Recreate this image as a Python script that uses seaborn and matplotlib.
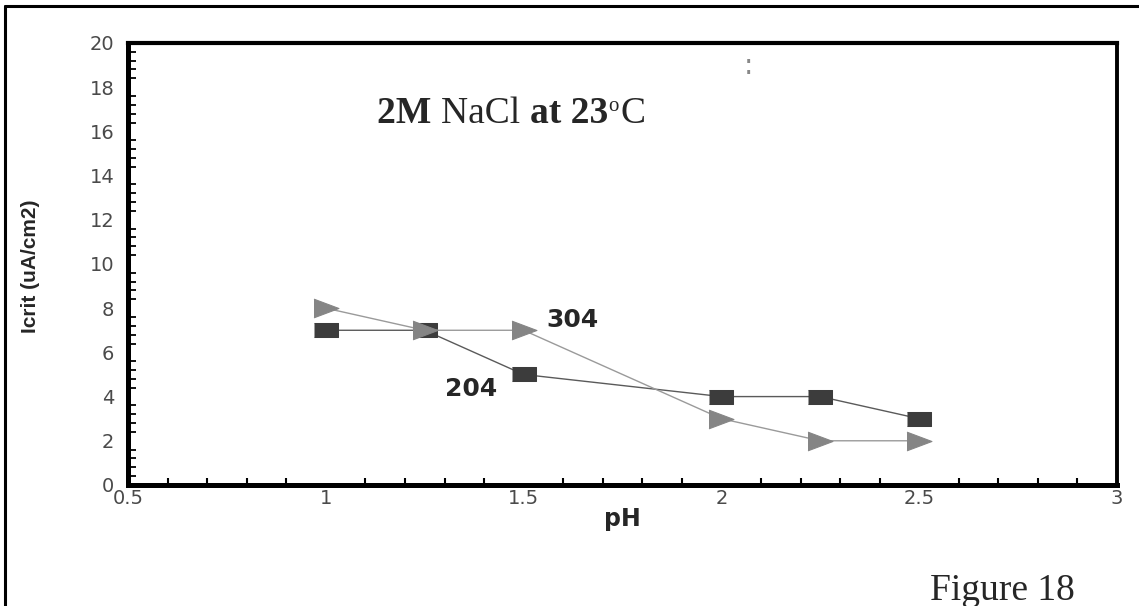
import numpy as np
import pandas as pd
import matplotlib
matplotlib.use("Agg")
import matplotlib.pyplot as plt
import seaborn as sns
from matplotlib.lines import Line2D
from matplotlib.ticker import MultipleLocator, FuncFormatter

# data
ph = [1.0, 1.25, 1.5, 2.0, 2.25, 2.5]
icrit_204 = [7, 7, 5, 4, 4, 3]
icrit_304 = [8, 7, 7, 3, 2, 2]
series_names = ["204", "304"]

df = pd.DataFrame({
    "pH": ph * 2,
    "Icrit": icrit_204 + icrit_304,
    "alloy": [series_names[0]] * len(ph) + [series_names[1]] * len(ph),
})

sns.set_theme(style="white")
plt.rcParams["font.family"] = ["DejaVu Sans"]

fig = plt.figure(figsize=(11.39, 6.06), dpi=100)
ax = fig.add_axes([0.1124, 0.1997, 0.8683, 0.7294])

# frame round the whole picture (only left and top show)
fig.add_artist(Line2D([0.0045, 0.0045], [0.0, 0.99], transform=fig.transFigure,
                      color="black", lw=2.2))
fig.add_artist(Line2D([0.0045, 1.0], [0.99, 0.99], transform=fig.transFigure,
                      color="black", lw=2.2))

rect = [(-1.6, -1), (1.6, -1), (1.6, 1), (-1.6, 1)]
tri = [(-1, 0.75), (1, 0), (-1, -0.75)]
sns.lineplot(data=df[df.alloy == "204"], x="pH", y="Icrit", ax=ax,
             color="#5a5a5a", lw=1.0, marker=rect, markersize=17,
             markerfacecolor="#3c3c3c", markeredgecolor="#3c3c3c", zorder=3)
sns.lineplot(data=df[df.alloy == "304"], x="pH", y="Icrit", ax=ax,
             color="#9a9a9a", lw=1.0, marker=tri, markersize=18,
             markerfacecolor="#858585", markeredgecolor="#858585", zorder=4)

ax.set_xlim(0.5, 3)
ax.set_ylim(0, 20)
ax.xaxis.set_major_locator(MultipleLocator(0.5))
ax.xaxis.set_minor_locator(MultipleLocator(0.1))
ax.yaxis.set_major_locator(MultipleLocator(2))
ax.yaxis.set_minor_locator(MultipleLocator(0.4))
ax.xaxis.set_major_formatter(FuncFormatter(lambda v, p: f"{v:g}"))

ax.tick_params(axis="y", which="major", direction="in", length=15, width=2,
               color="black", labelsize=14, labelcolor="#4a4a4a", pad=10)
ax.tick_params(axis="y", which="minor", direction="in", length=6, width=1.3,
               color="black", left=True)
ax.tick_params(axis="x", which="major", direction="in", length=9, width=2.5,
               color="black", labelsize=14, labelcolor="#4a4a4a", pad=3)
ax.tick_params(axis="x", which="minor", direction="in", length=5, width=1.5,
               color="black", bottom=True)

for side, w in [("left", 3.6), ("bottom", 3.6), ("top", 3.0), ("right", 2.8)]:
    ax.spines[side].set_visible(True)
    ax.spines[side].set_color("black")
    ax.spines[side].set_linewidth(w)

ax.set_xlabel("pH", fontsize=17, fontweight="bold", labelpad=-1)
ax.set_ylabel("")
fig.text(0.027, 0.561, "Icrit (uA/cm2)", rotation=90, ha="center", va="center",
         fontsize=15, fontweight="bold",
         family=["Liberation Sans Narrow", "Liberation Sans", "DejaVu Sans"])

# series labels
ax.text(1.558, 7.45, "304", fontsize=18, fontweight="bold", va="center", ha="left")
ax.text(1.3, 4.35, "204", fontsize=18, fontweight="bold", va="center", ha="left")

# title built from pieces with different weights
serif = ["Liberation Serif", "DejaVu Serif"]
t1 = ax.text(0.252, 0.82, "2M ", transform=ax.transAxes, fontsize=27,
             fontweight="bold", family=serif, va="baseline")
t2 = ax.annotate("NaCl ", xy=(1, 0), xycoords=t1, va="bottom", fontsize=27,
                 family=serif)
t3 = ax.annotate("at 23", xy=(1, 0), xycoords=t2, va="bottom", fontsize=27,
                 fontweight="bold", family=serif)
ax.annotate("o", xy=(1, 0.42), xycoords=t3, va="bottom", fontsize=15,
            family=serif)
ax.annotate("C", xy=(1, 0), xycoords=t3, xytext=(9, 0), textcoords="offset points",
            va="bottom", fontsize=27, family=serif)

# small stray mark in the original
fig.text(0.657, 0.891, ":", fontsize=20, color="#888888", ha="center", va="center")

fig.text(0.8165, 0.01, "Figure 18", fontsize=27, family=serif, ha="left",
         va="baseline")

fig.savefig("out.png", dpi=100)
